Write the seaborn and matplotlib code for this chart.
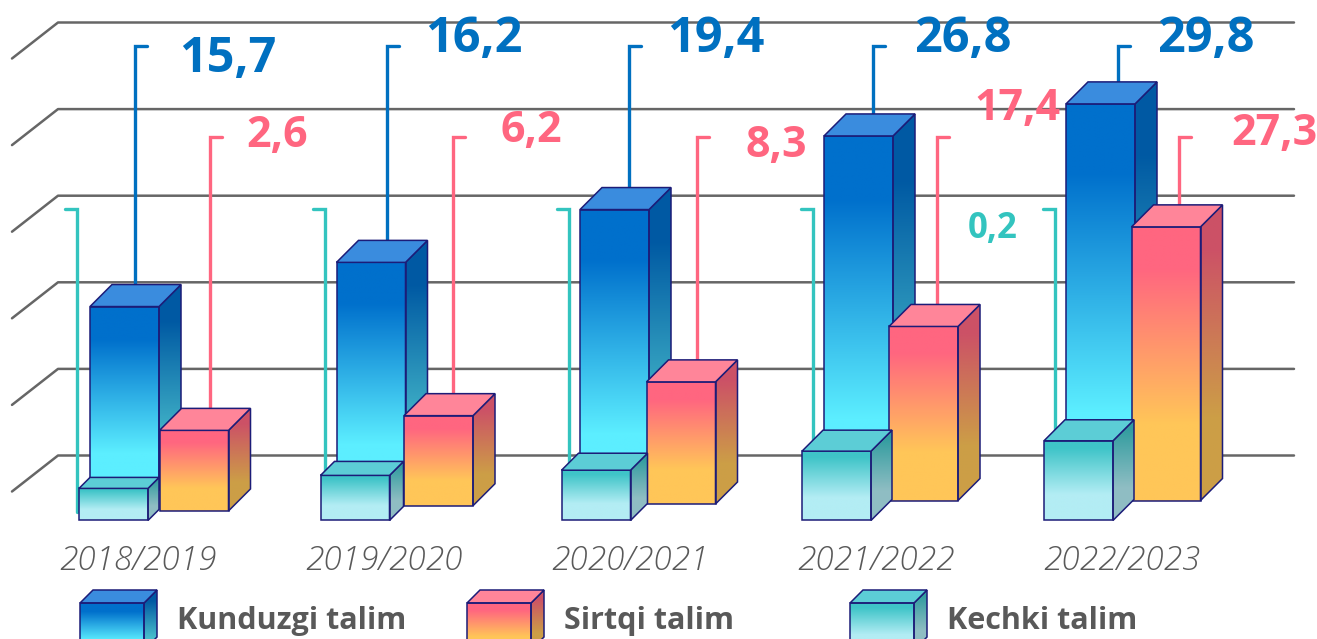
import numpy as np
import pandas as pd
import matplotlib
matplotlib.use('Agg')
import matplotlib.pyplot as plt
import seaborn as sns
from matplotlib.colors import LinearSegmentedColormap, to_rgb
from matplotlib.patches import Polygon, Rectangle

# Data
years = ['2018/2019', '2019/2020', '2020/2021', '2021/2022', '2022/2023']
day_labels = ['15,7', '16,2', '19,4', '26,8', '29,8']
ext_labels = ['2,6', '6,2', '8,3', '17,4', '27,3']

# heights as drawn in the picture, read against the back wall grid (lines every 5)
day_top = [13.6, 16.15, 19.2, 23.45, 25.3]
day_base = [3.0, 3.0, 3.0, 3.0, 3.0]
ext_top = [6.45, 7.3, 9.25, 12.45, 18.2]
ext_base = [1.8, 2.1, 2.2, 2.4, 2.4]
eve_top = [3.1, 3.85, 4.15, 5.25, 5.85]
eve_base = [1.25, 1.25, 1.25, 1.25, 1.25]
grid_vals = [5, 10, 15, 20, 25, 30]

# Layout (pixels on the x axis)
PX_PER_UNIT = 17.32
ZERO_PX = 542.1
BAR_W = 69
day_x = [124.5, 371, 614.5, 858.5, 1100.5]
ext_x = [194, 438.5, 681, 923.5, 1166]
eve_x = [113.5, 355, 596, 836.5, 1078.5]
day_depth = [22, 22, 22, 22, 22]
ext_depth = [22, 22, 22, 22, 22]
eve_depth = [11, 14, 17, 21, 21]
tick_x = [138, 384, 630, 876, 1122]

NAVY = '#1c1c78'
BLUE = '#0070c0'
PINK = '#ff6680'
TEAL = '#33c4bf'
GREY = '#595959'

STYLES = {
    'day': dict(stops=[(0, '#0070cc'), (0.18, '#0070cc'), (0.8, '#5ceeff'), (1, '#5ceeff')], top='#3a8cde'),
    'ext': dict(stops=[(0, '#ff6680'), (0.15, '#ff6680'), (0.72, '#ffc658'), (1, '#ffc658')], top='#ff8599'),
    'eve': dict(stops=[(0, '#3fc4c8'), (0.1, '#3fc4c8'), (0.68, '#b3edf4'), (1, '#b3edf4')], top='#5ccdd6'),
}


def to_val(py):
    return (ZERO_PX - py) / PX_PER_UNIT


def cmaps(stops):
    front = LinearSegmentedColormap.from_list('f', stops)
    side = LinearSegmentedColormap.from_list('s', [(p, tuple(0.8 * c for c in to_rgb(col))) for p, col in stops])
    return front, side


def add_box(ax, x0, x1, y0, y1, depth, style, z):
    # front gradient, side gradient and lid of one bar, sizes in data units
    front, side = cmaps(style['stops'])
    grad = np.linspace(0, 1, 256).reshape(-1, 1)
    dy = depth / PX_PER_UNIT
    ax.imshow(grad, cmap=front, extent=[x0, x1, y0, y1], aspect='auto', zorder=z + 0.1, interpolation='bilinear')
    side_poly = Polygon([(x1, y0), (x1 + depth, y0 + dy), (x1 + depth, y1 + dy), (x1, y1)],
                        closed=True, facecolor='none', edgecolor=NAVY, linewidth=1.1, zorder=z + 0.3)
    ax.add_patch(side_poly)
    im = ax.imshow(grad, cmap=side, extent=[x1, x1 + depth, y0, y1 + dy], aspect='auto', zorder=z + 0.1, interpolation='bilinear')
    im.set_clip_path(side_poly)
    ax.add_patch(Polygon([(x0, y1), (x0 + depth, y1 + dy), (x1 + depth, y1 + dy), (x1, y1)],
                         closed=True, facecolor=style['top'], edgecolor=NAVY, linewidth=1.1, zorder=z + 0.3))


def draw_series(ax, xs, tops, bases, depths, style, z):
    df = pd.DataFrame({'x': xs, 'h': np.array(tops) - np.array(bases)})
    n_before = len(ax.patches)
    sns.barplot(data=df, x='x', y='h', bottom=bases, native_scale=True, width=BAR_W / np.diff(xs).min(),
                errorbar=None, color='white', ax=ax, zorder=z)
    bars = ax.patches[n_before:]
    for bar, depth in zip(bars, depths):
        bar.set_facecolor('none')
        bar.set_edgecolor(NAVY)
        bar.set_linewidth(1.1)
        bar.set_zorder(z + 0.3)
        x0, x1 = bar.get_x(), bar.get_x() + bar.get_width()
        y0, y1 = bar.get_y(), bar.get_y() + bar.get_height()
        add_box(ax, x0, x1, y0, y1, depth, style, z)


def leader(ax, x, top_px, end_px, color, side):
    tip = x + 12 * side
    ax.plot([tip, x, x], [to_val(top_px), to_val(top_px), to_val(end_px)], color=color, lw=2.4,
            solid_joinstyle='miter', zorder=5)


def main():
    sns.set_theme(style='white')
    plt.rcParams['font.family'] = ['Open Sans', 'DejaVu Sans']

    fig = plt.figure(figsize=(13.17, 6.39), dpi=100)
    ax = fig.add_axes([0, 0, 1, 1])

    # back wall
    for v in grid_vals:
        ax.plot([12, 58, 1294], [v - 36 / PX_PER_UNIT, v, v], color='#666666', lw=1.8, zorder=1)

    # leader lines
    for x in [135, 387, 629, 873, 1118]:
        leader(ax, x, 46, 300, BLUE, 1)
    for x in [210, 453, 697, 937, 1179]:
        leader(ax, x, 137, 420, PINK, 1)
    for x in [77, 325, 569, 813, 1055]:
        leader(ax, x, 209, 512, TEAL, -1)

    draw_series(ax, day_x, day_top, day_base, day_depth, STYLES['day'], 10)
    draw_series(ax, ext_x, ext_top, ext_base, ext_depth, STYLES['ext'], 20)
    draw_series(ax, eve_x, eve_top, eve_base, eve_depth, STYLES['eve'], 30)

    # value labels
    for txt, (x, y) in zip(day_labels, [(228, 60), (474, 39), (716, 39), (963, 40), (1206, 40)]):
        ax.text(x, to_val(y), txt, color=BLUE, fontsize=35, fontweight='bold', ha='center', va='center', zorder=40)
    for txt, (x, y) in zip(ext_labels, [(277, 136), (531, 131), (776, 146), (1017, 108), (1274, 134)]):
        ax.text(x, to_val(y), txt, color=PINK, fontsize=31, fontweight='bold', ha='center', va='center', zorder=40)
    ax.text(993, to_val(229), '0,2', color=TEAL, fontsize=25, fontweight='bold', ha='center', va='center', zorder=40)

    # legend
    legend_items = [('Kunduzgi talim', 80, 177, 'day'), ('Sirtqi talim', 467, 564, 'ext'), ('Kechki talim', 850, 947, 'eve')]
    for name, sx, tx, key in legend_items:
        y0, y1 = to_val(650), to_val(603)
        add_box(ax, sx, sx + 64, y0, y1, 13, STYLES[key], 50)
        ax.add_patch(Rectangle((sx, y0), 64, y1 - y0, facecolor='none', edgecolor=NAVY, linewidth=1.1, zorder=50.3))
        ax.text(tx, to_val(621), name, color=GREY, fontsize=22, fontweight='bold', ha='left', va='center')

    ax.set_xlim(0, 1317)
    ax.set_ylim(to_val(639), to_val(0))
    ax.set_xlabel('')
    ax.set_ylabel('')
    ax.set_yticks([])
    ax.set_xticks(tick_x)
    ax.set_xticklabels(years, fontsize=24, fontstyle='italic', fontweight='light', color=GREY)
    ax.tick_params(axis='x', length=0, pad=-68)
    sns.despine(ax=ax, left=True, bottom=True)

    fig.savefig('out.png', dpi=100)


if __name__ == "__main__":
    main()
